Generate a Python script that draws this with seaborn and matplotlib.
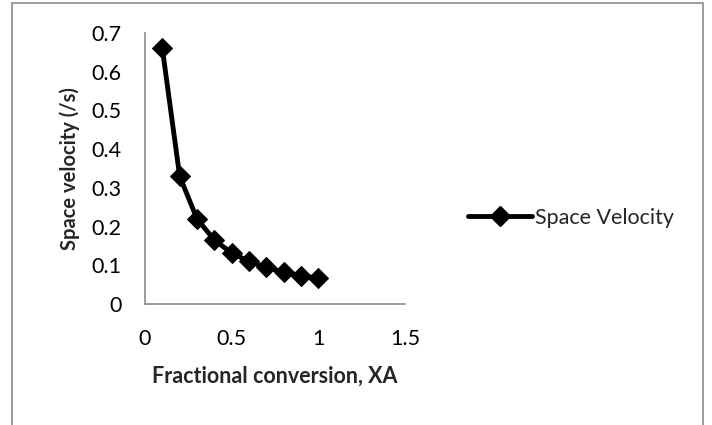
import matplotlib
matplotlib.use("Agg")
import matplotlib.pyplot as plt
import seaborn as sns
import pandas as pd
from matplotlib.patches import Rectangle
from matplotlib.lines import Line2D

x_conv = [0.1, 0.2, 0.3, 0.4, 0.5, 0.6, 0.7, 0.8, 0.9, 1.0]
space_velocity = [0.66, 0.33, 0.22, 0.165, 0.132, 0.11, 0.0943, 0.0825, 0.0733, 0.066]
series_name = "Space Velocity"
x_ticks = [0, 0.5, 1, 1.5]
x_tick_labels = ["0", "0.5", "1", "1.5"]
y_ticks = [0, 0.1, 0.2, 0.3, 0.4, 0.5, 0.6, 0.7]
y_tick_labels = ["0", "0.1", "0.2", "0.3", "0.4", "0.5", "0.6", "0.7"]

sns.set_style("white")
plt.rcParams['font.family'] = ['Lato', 'DejaVu Sans']

df = pd.DataFrame({"x": x_conv, "y": space_velocity, "s": series_name})

fig = plt.figure(figsize=(7.12, 4.25), dpi=100)
ax = fig.add_axes([145/712, 1-304/425, 260/712, 271/425])

sns.lineplot(data=df, x="x", y="y", hue="s", palette=["black"], marker="D",
             markersize=10, linewidth=3.5, markeredgecolor="black", ax=ax, legend=False)

ax.set_xlim(0, 1.5)
ax.set_ylim(0, 0.7)
ax.set_xticks(x_ticks)
ax.set_xticklabels(x_tick_labels)
ax.set_yticks(y_ticks)
ax.set_yticklabels(y_tick_labels)
ax.tick_params(axis="both", length=0, labelsize=15.5, colors="black")
ax.tick_params(axis="x", pad=18)
ax.tick_params(axis="y", pad=17)
for s in ["top", "right"]:
    ax.spines[s].set_visible(False)
for s in ["left", "bottom"]:
    ax.spines[s].set_color("#8c8c8c")
    ax.spines[s].set_linewidth(1.2)

ax.set_xlabel("Fractional conversion, XA", fontsize=15.5, fontweight="bold", labelpad=12)
ax.set_ylabel("Space velocity (/s)", fontsize=14.5, fontweight="bold", labelpad=8)

h = Line2D([], [], color="black", marker="D", markersize=10, linewidth=3.5)
fig.legend([h], [series_name], loc="center left", bbox_to_anchor=(457/712, 1-218/425),
           frameon=False, fontsize=15.5, handlelength=3.0, handletextpad=0.1, borderpad=0)

fig.patches.append(Rectangle((12/712, -0.1), (703-12)/712, 1.1 - 3/425,
                             transform=fig.transFigure, fill=False,
                             edgecolor="#8c8c8c", linewidth=1.2, clip_on=False))

fig.savefig("out.png", dpi=100)
